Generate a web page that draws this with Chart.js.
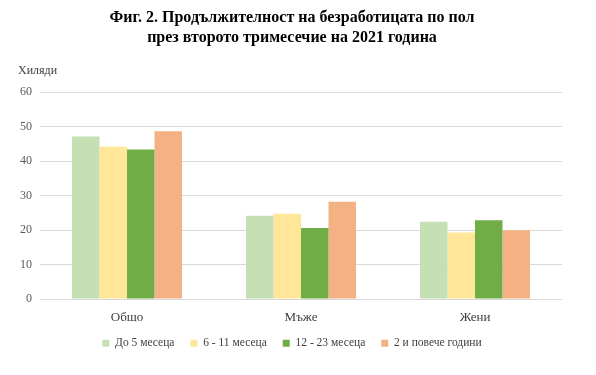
<!DOCTYPE html>
<html>
<head>
<meta charset="utf-8">
<script src="https://cdn.jsdelivr.net/npm/chart.js@4"></script>
<style>
  html, body { margin: 0; padding: 0; background: #fff; }
  #wrap { width: 596px; height: 375px; }
</style>
</head>
<body>
<div id="wrap"><canvas id="chart"></canvas></div>
<script>
var categories = ['Общо', 'Мъже', 'Жени'];
var seriesNames = ['До 5 месеца', '6 - 11 месеца', '12 - 23 месеца', '2 и повече години'];
var upTo5 = [47.1, 24.1, 22.4];
var from6to11 = [44.1, 24.7, 19.3];
var from12to23 = [43.3, 20.6, 22.8];
var over2 = [48.6, 28.2, 19.9];
var yTicks = [0, 10, 20, 30, 40, 50, 60];

var colors = ['#c5e0b4', '#ffe699', '#70ad47', '#f4b183'];
var serif = "'Liberation Serif', 'Times New Roman', serif";

// "Хиляди" unit label above the y axis, and shift title/legend a bit right
var unitLabel = {
    id: 'unitLabel',
    afterLayout: function(chart) {
        chart.titleBlock.left += 22;
        chart.legend.left += 22;
    },
    afterDraw: function(chart) {
        var ctx = chart.ctx;
        ctx.save();
        ctx.font = '12px ' + serif;
        ctx.fillStyle = '#404040';
        ctx.textAlign = 'left';
        ctx.textBaseline = 'middle';
        ctx.fillText('Хиляди', 18, 71);
        ctx.restore();
    }
};

var values = [upTo5, from6to11, from12to23, over2];
var datasets = seriesNames.map(function(name, i) {
    return {
        label: name,
        data: values[i],
        backgroundColor: colors[i],
        borderWidth: 0,
        categoryPercentage: 0.632,
        barPercentage: 1.0
    };
});

new Chart(document.getElementById('chart'), {
    type: 'bar',
    data: { labels: categories, datasets: datasets },
    plugins: [unitLabel],
    options: {
        responsive: true,
        maintainAspectRatio: false,
        animation: false,
        layout: { padding: { left: 0, right: 34, top: 0, bottom: 16 } },
        plugins: {
            title: {
                display: true,
                text: ['Фиг. 2. Продължителност на безработицата по пол',
                       'през второто тримесечие на 2021 година'],
                color: '#000',
                font: { family: serif, size: 16, weight: 'bold', lineHeight: 1.25 },
                padding: { top: 8, bottom: 44 }
            },
            legend: {
                position: 'bottom',
                labels: {
                    boxWidth: 7,
                    boxHeight: 7,
                    color: '#404040',
                    font: { family: serif, size: 11.5 },
                    padding: 16
                }
            },
            tooltip: { enabled: false }
        },
        scales: {
            x: {
                afterFit: function(scale) { scale.height = 22.5; },
                grid: { display: false },
                border: { display: false },
                ticks: { color: '#404040', font: { family: serif, size: 13 }, padding: 3 }
            },
            y: {
                min: 0,
                max: 60,
                afterFit: function(scale) { scale.width = 40; },
                afterBuildTicks: function(scale) {
                    scale.ticks = yTicks.map(function(v) { return { value: v }; });
                },
                grid: { color: '#d9d9d9', drawTicks: false },
                border: { display: false },
                ticks: { color: '#595959', font: { family: serif, size: 12 }, padding: 8 }
            }
        }
    }
});
</script>
</body>
</html>
